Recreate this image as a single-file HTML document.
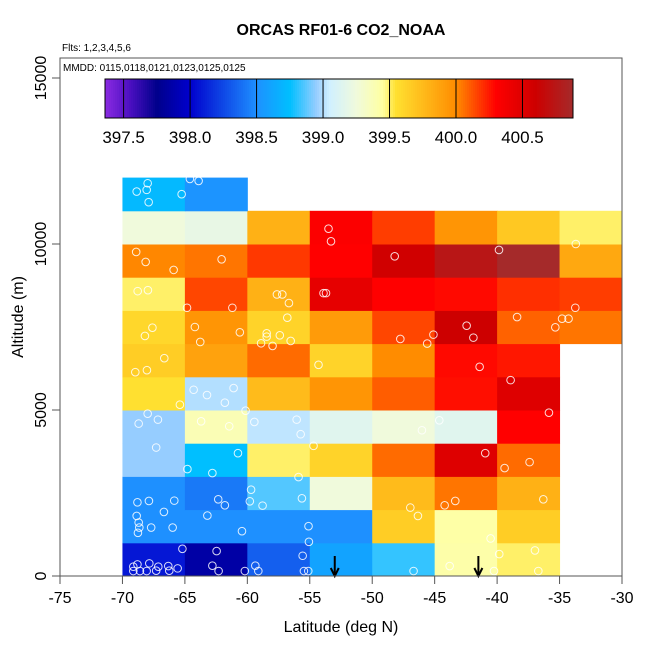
<!DOCTYPE html>
<html><head><meta charset="utf-8"><style>
body{margin:0;background:#fff}
svg{display:block;font-family:"Liberation Sans",sans-serif}
</style></head><body>
<svg id="chart" width="650" height="650">
<text x="341" y="35" text-anchor="middle" font-size="16" font-weight="bold">ORCAS RF01-6 CO2_NOAA</text>
<text x="62" y="51" font-size="10">Flts: 1,2,3,4,5,6</text>
<g id="cells"></g>
<g id="pts"></g>
<g id="arrows"></g>
<rect x="60" y="58" width="562" height="518" fill="none" stroke="#555" stroke-width="1"/>
<text x="63" y="71" font-size="10">MMDD: 0115,0118,0121,0123,0125,0125</text>
<g id="cbar"></g>
<g id="axes"></g>
<text x="341" y="632" text-anchor="middle" font-size="16">Latitude (deg N)</text>
<text transform="translate(23,317) rotate(-90)" text-anchor="middle" font-size="16">Altitude (m)</text>
</svg>
<script>
const latEdges=[-70,-65,-60,-55,-50,-45,-40,-35,-30];
const altEdges=[0,1000,2000,3000,4000,5000,6000,7000,8000,9000,10000,11000,12000];
const cellValues=[
[398.08,397.85,398.33,398.6,398.82,399.42,399.5,null],
[398.5,398.5,398.5,398.5,399.65,399.43,399.65,null],
[398.5,398.42,398.86,399.25,399.75,400.05,399.8,null],
[398.95,398.75,399.5,399.62,400.07,400.5,400.07,null],
[398.95,399.38,399.02,399.15,399.25,399.15,400.3,null],
[399.55,399.0,399.75,399.95,400.1,400.27,400.5,null],
[399.65,399.88,400.07,399.62,400.0,400.28,400.25,null],
[399.6,399.95,399.62,399.92,400.15,400.6,400.09,400.05],
[399.5,400.15,399.8,400.45,400.3,400.28,400.2,400.17],
[400.01,400.05,400.18,400.3,400.58,400.75,400.88,399.85],
[399.25,399.2,399.8,400.32,400.17,399.95,399.68,399.5],
[398.72,398.52,null,null,null,null,null,null]];
const ptLat=[-68.86,-68.06,-67.98,-67.9,-65.26,-64.6,-63.9,-53.5,-53.3,-39.85,-33.7,-68.9,-68.14,-65.9,-62.06,-48.2,-68.78,-67.96,-64.83,-61.2,-57.63,-57.2,-56.67,-53.9,-53.7,-33.74,-67.6,-68.2,-64.2,-63.77,-60.6,-58.45,-58.45,-58.9,-57.98,-57.4,-56.53,-56.8,-47.75,-45.6,-45.1,-42.44,-41.9,-38.4,-35.34,-34.8,-34.28,-68.97,-68.04,-66.65,-54.3,-41.4,-38.92,-65.4,-64.3,-63.23,-61.8,-61.1,-60.14,-67.98,-68.7,-67.16,-63.7,-61.45,-59.44,-56.05,-55.73,-46.02,-44.63,-35.85,-67.3,-60.75,-64.8,-62.8,-54.7,-40.95,-39.4,-37.4,-55.9,-59.7,-59.8,-58.78,-55.63,-68.8,-67.88,-65.85,-66.68,-62.33,-61.8,-63.2,-46.95,-46.34,-44.2,-43.35,-36.3,-68.86,-68.7,-68.65,-68.76,-67.7,-65.98,-60.43,-55.1,-55.07,-40.52,-65.2,-62.46,-55.57,-39.83,-36.97,-69.13,-68.8,-67.85,-67.13,-66.33,-65.58,-62.8,-62.3,-69.13,-68.6,-68.06,-67.3,-66.25,-60.2,-59.36,-59.12,-55.47,-55.12,-46.69,-43.8,-40.25,-36.7];
const ptAlt=[11580,11630,11830,11260,11500,11960,11900,10460,10080,9820,10000,9760,9460,9220,9540,9630,8580,8610,8080,8080,8480,8480,8220,8520,8520,8080,7480,7230,7500,7050,7340,7310,7210,7010,6930,7250,7080,7780,7140,7000,7270,7540,7180,7800,7490,7750,7750,6140,6200,6560,6360,6300,5900,5160,5610,5450,5220,5660,4980,4890,4590,4710,4660,4510,4640,4710,4270,4390,4690,4920,3870,3700,3220,3100,3920,3700,3250,3430,2980,2600,2250,2120,2340,2220,2260,2270,1930,2310,2130,1820,2060,1810,2130,2260,2310,1810,1610,1460,1300,1460,1460,1350,1500,1030,1130,820,750,610,660,770,280,350,380,280,300,230,310,150,150,150,150,160,160,150,310,150,150,150,150,300,150,150];
const arrowLat=[-53,-41.5];
const xTicks=[-75,-70,-65,-60,-55,-50,-45,-40,-35,-30];
const yTicks=[0,5000,10000,15000];
const cbTicks=[397.5,398.0,398.5,399.0,399.5,400.0,400.5];
const cbRange=[397.36,400.88];
const stops=[[397.36,[138,43,226]],[397.55,[75,15,192]],[397.75,[0,0,139]],[398.0,[0,0,205]],[398.5,[30,144,255]],[398.75,[0,191,255]],[398.95,[150,205,255]],[399.05,[208,240,255]],[399.25,[240,250,220]],[399.45,[255,255,160]],[399.55,[255,224,48]],[400.0,[255,140,0]],[400.3,[255,0,0]],[400.6,[205,0,0]],[400.88,[165,42,42]]];
function col(v){
 if(v<=stops[0][0])return 'rgb('+stops[0][1]+')';
 for(let i=1;i<stops.length;i++){if(v<=stops[i][0]){const a=stops[i-1],b=stops[i],t=(v-a[0])/(b[0]-a[0]);
  return 'rgb('+a[1].map((c,k)=>Math.round(c+(b[1][k]-c)*t)).join(',')+')';}}
 return 'rgb('+stops[stops.length-1][1]+')';}
const X=v=>60+(v+75)*562/45, Y=v=>576-v*498/15000;
const CB=v=>105+(v-cbRange[0])*468/(cbRange[1]-cbRange[0]);
const NS='http://www.w3.org/2000/svg';
function mk(p,t,a){const e=document.createElementNS(NS,t);for(const k in a)e.setAttribute(k,a[k]);p.appendChild(e);return e;}
const cells=document.getElementById('cells');
cellValues.forEach((row,r)=>row.forEach((v,c)=>{if(v===null)return;
 const x0=X(latEdges[c]),x1=Math.min(X(latEdges[c+1]),622),y1=Y(altEdges[r]),y0=Y(altEdges[r+1]);
 const e=mk(cells,'rect',{x:x0,y:y0,width:x1-x0+0.5,height:y1-y0+0.5,fill:col(v)});
 
 }));
const pts=document.getElementById('pts');
ptLat.forEach((la,i)=>{const e=mk(pts,'circle',{cx:X(la),cy:Y(ptAlt[i]),r:3.8,fill:'none',stroke:'#fff','stroke-opacity':0.85,'stroke-width':1});
 
 });
const ar=document.getElementById('arrows');
arrowLat.forEach(la=>{const g=mk(ar,'g',{});
 
 
 const x=X(la);mk(g,'line',{x1:x,y1:556,x2:x,y2:576,stroke:'#000','stroke-width':2});
 mk(g,'polyline',{points:(x-4)+',568 '+x+',576 '+(x+4)+',568',fill:'none',stroke:'#000','stroke-width':2});});
const cb=document.getElementById('cbar');
for(let i=0;i<234;i++){const v0=cbRange[0]+(cbRange[1]-cbRange[0])*i/234;
 mk(cb,'rect',{x:105+i*2,y:79,width:2.3,height:39,fill:col(v0+(cbRange[1]-cbRange[0])/468)});}
mk(cb,'rect',{x:105,y:79,width:468,height:39,fill:'none',stroke:'#000','stroke-width':1});
cbTicks.forEach(v=>{const x=CB(v);mk(cb,'line',{x1:x,y1:79,x2:x,y2:118,stroke:'#000','stroke-width':1});
 const t=mk(cb,'text',{x:x,y:143,'text-anchor':'middle','font-size':17});t.textContent=v.toFixed(1);
 
 });
const ax=document.getElementById('axes');
xTicks.forEach(v=>{const x=X(v);mk(ax,'line',{x1:x,y1:576,x2:x,y2:584,stroke:'#555'});
 const t=mk(ax,'text',{x:x,y:603,'text-anchor':'middle','font-size':16});t.textContent=v;
 
 });
yTicks.forEach(v=>{const y=Y(v);mk(ax,'line',{x1:52,y1:y,x2:60,y2:y,stroke:'#555'});
 const t=mk(ax,'text',{transform:'translate(46,'+y+') rotate(-90)','text-anchor':'middle','font-size':16});t.textContent=v;
 
 });
</script>
</body></html>
